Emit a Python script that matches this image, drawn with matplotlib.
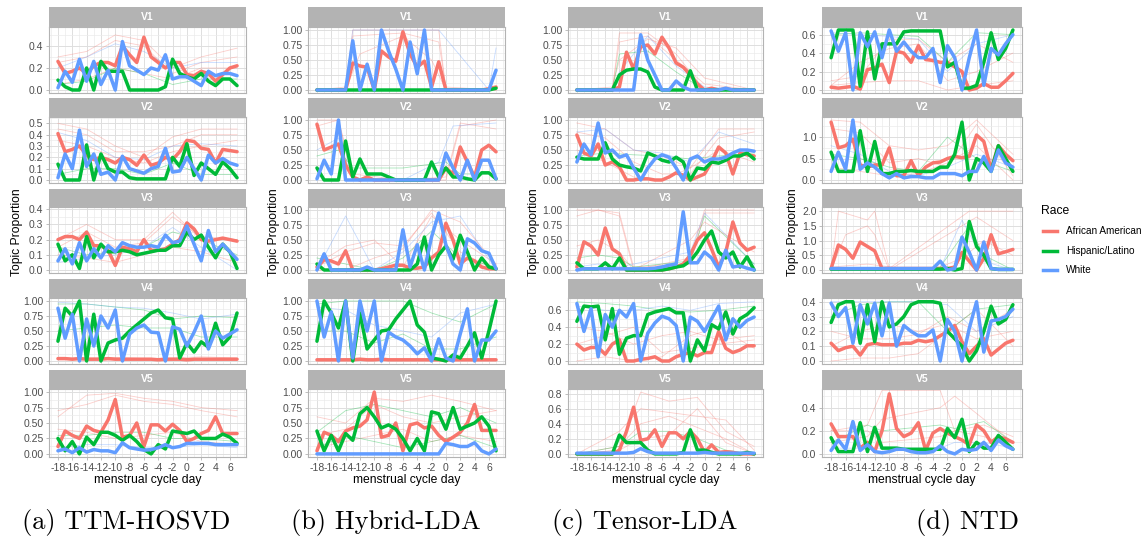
import matplotlib
matplotlib.use('Agg')
import matplotlib.pyplot as plt
from matplotlib.lines import Line2D

plt.rcParams['font.family'] = ['Liberation Sans', 'DejaVu Sans']

# ---------------- data ----------------
DAYS = list(range(-18, 8))
RACES = ['African American', 'Hispanic/Latino', 'White']
COLORS = ['#F8766D', '#00BA38', '#619CFF']
FACETS = ['V1', 'V2', 'V3', 'V4', 'V5']
CAPTIONS = ['(a) TTM-HOSVD', '(b) Hybrid-LDA', '(c) Tensor-LDA', '(d) NTD']
XTICKS = [-18, -16, -14, -12, -10, -8, -6, -4, -2, 0, 2, 4, 6]
THIN_X = [-18, -14, -10, -6, -2, 2, 7]

# (a) TTM-HOSVD : (African American, Hispanic/Latino, White)
TTM_V1 = ([0.26,0.15,0.17,0.2,0.15,0.22,0.25,0.25,0.22,0.4,0.32,0.25,0.48,0.3,0.25,0.2,0.25,0.25,0.14,0.13,0.17,0.15,0.08,0.14,0.2,0.22],
          [0.09,0.03,0.0,0.0,0.2,0.0,0.26,0.17,0.17,0.17,0.0,0.0,0.0,0.0,0.0,0.03,0.28,0.15,0.12,0.1,0.15,0.08,0.04,0.1,0.1,0.04],
          [0.02,0.17,0.07,0.28,0.08,0.26,0.05,0.18,0.0,0.44,0.22,0.18,0.14,0.2,0.18,0.32,0.1,0.12,0.12,0.08,0.04,0.17,0.13,0.15,0.15,0.13])
TTM_V2 = ([0.41,0.25,0.27,0.3,0.22,0.18,0.2,0.18,0.15,0.2,0.18,0.13,0.22,0.13,0.15,0.2,0.18,0.25,0.35,0.34,0.28,0.27,0.15,0.27,0.26,0.25],
          [0.14,0.0,0.0,0.0,0.31,0.0,0.23,0.1,0.07,0.07,0.02,0.01,0.01,0.01,0.01,0.01,0.2,0.12,0.32,0.04,0.15,0.1,0.05,0.16,0.1,0.02],
          [0.02,0.23,0.1,0.44,0.12,0.23,0.05,0.07,0.0,0.21,0.1,0.08,0.06,0.1,0.12,0.28,0.07,0.08,0.2,0.1,0.0,0.22,0.15,0.19,0.15,0.13])
TTM_V3 = ([0.2,0.22,0.22,0.2,0.25,0.16,0.16,0.13,0.03,0.15,0.14,0.12,0.2,0.13,0.13,0.14,0.17,0.2,0.31,0.27,0.2,0.19,0.2,0.21,0.2,0.19],
          [0.17,0.06,0.1,0.01,0.22,0.08,0.17,0.12,0.12,0.13,0.12,0.1,0.11,0.12,0.13,0.13,0.16,0.16,0.25,0.2,0.23,0.15,0.08,0.17,0.12,0.01],
          [0.06,0.14,0.04,0.18,0.06,0.14,0.08,0.16,0.12,0.18,0.16,0.15,0.15,0.16,0.15,0.23,0.18,0.19,0.29,0.17,0.06,0.26,0.12,0.17,0.12,0.07])
TTM_V4 = ([0.04,0.04,0.03,0.04,0.03,0.03,0.03,0.04,0.03,0.03,0.03,0.03,0.03,0.03,0.02,0.03,0.03,0.03,0.02,0.03,0.03,0.03,0.03,0.03,0.03,0.03],
          [0.33,0.88,0.75,1.0,0.0,0.78,0.0,0.3,0.35,0.38,0.5,0.6,0.7,0.8,0.85,0.72,0.7,0.05,0.3,0.15,0.32,0.23,0.63,0.27,0.4,0.8],
          [0.88,0.38,0.78,0.0,0.7,0.25,0.75,0.55,0.85,0.0,0.45,0.55,0.6,0.48,0.47,0.0,0.57,0.53,0.25,0.48,0.75,0.2,0.5,0.38,0.45,0.52])
TTM_V5 = ([0.12,0.37,0.3,0.25,0.45,0.38,0.35,0.55,0.88,0.27,0.3,0.5,0.12,0.47,0.47,0.37,0.48,0.38,0.2,0.25,0.33,0.38,0.6,0.33,0.33,0.33],
          [0.25,0.05,0.2,0.0,0.27,0.15,0.35,0.35,0.3,0.22,0.3,0.2,0.07,0.0,0.15,0.08,0.37,0.35,0.33,0.37,0.25,0.25,0.25,0.32,0.27,0.17],
          [0.05,0.08,0.02,0.1,0.03,0.07,0.05,0.05,0.02,0.18,0.1,0.08,0.06,0.07,0.1,0.15,0.1,0.12,0.17,0.17,0.17,0.17,0.15,0.15,0.15,0.15])

# (b) Hybrid-LDA
HYB_V1 = ([0.0,0.0,0.0,0.0,0.0,0.45,0.4,0.38,0.0,0.65,0.55,0.48,0.97,0.6,0.38,0.48,0.05,0.47,0.0,0.0,0.0,0.0,0.0,0.0,0.02,0.05],
          [0.0,0.0,0.0,0.0,0.0,0.0,0.0,0.0,0.0,0.0,0.0,0.0,0.0,0.0,0.0,0.0,0.0,0.0,0.0,0.0,0.0,0.0,0.0,0.0,0.0,0.03],
          [0.0,0.0,0.0,0.0,0.0,0.82,0.0,0.43,0.0,1.0,0.65,0.35,0.0,0.8,0.27,1.0,0.0,0.0,0.0,0.0,0.0,0.0,0.0,0.0,0.0,0.33])
HYB_V2 = ([0.93,0.5,0.55,0.6,0.25,0.05,0.0,0.05,0.0,0.0,0.0,0.0,0.0,0.0,0.0,0.0,0.0,0.0,0.2,0.1,0.55,0.3,0.05,0.5,0.58,0.47],
          [0.2,0.0,0.0,0.0,0.65,0.05,0.35,0.1,0.1,0.1,0.05,0.0,0.0,0.0,0.0,0.0,0.3,0.05,0.2,0.05,0.05,0.02,0.0,0.12,0.12,0.02],
          [0.02,0.33,0.1,1.0,0.0,0.0,0.0,0.0,0.0,0.0,0.0,0.0,0.0,0.0,0.0,0.0,0.0,0.0,0.45,0.2,0.0,0.33,0.0,0.33,0.33,0.02])
HYB_V3 = ([0.05,0.17,0.15,0.1,0.32,0.0,0.0,0.0,0.0,0.02,0.05,0.08,0.08,0.03,0.03,0.05,0.2,0.3,0.78,0.5,0.1,0.2,0.15,0.05,0.02,0.02],
          [0.1,0.0,0.0,0.0,0.0,0.0,0.0,0.0,0.0,0.0,0.0,0.0,0.0,0.0,0.1,0.55,0.0,0.25,0.4,0.18,0.58,0.3,0.0,0.2,0.05,0.02],
          [0.0,0.27,0.0,0.0,0.0,0.0,0.0,0.05,0.0,0.0,0.0,0.0,0.67,0.05,0.42,0.0,0.55,0.95,0.42,0.1,0.0,0.52,0.45,0.32,0.28,0.02])
HYB_V4 = ([0.02,0.02,0.02,0.02,0.02,0.02,0.03,0.02,0.02,0.03,0.02,0.02,0.02,0.02,0.02,0.02,0.02,0.02,0.02,0.02,0.02,0.02,0.02,0.02,0.02,0.02],
          [0.33,1.0,0.8,0.55,1.0,0.0,0.8,0.2,0.35,0.5,0.52,0.7,0.85,1.0,0.6,0.48,0.05,0.03,0.0,0.1,0.05,0.25,0.47,0.05,0.5,1.0],
          [1.0,0.4,0.82,0.0,1.0,0.05,1.0,0.5,1.0,0.0,0.48,0.4,0.35,0.25,0.12,0.22,0.0,0.37,0.05,0.0,0.45,0.87,0.0,0.35,0.35,0.5])
HYB_V5 = ([0.05,0.35,0.3,0.2,0.37,0.42,0.45,0.55,1.0,0.27,0.3,0.5,0.05,0.47,0.5,0.42,0.45,0.3,0.2,0.27,0.35,0.5,0.8,0.38,0.38,0.38],
          [0.37,0.05,0.3,0.05,0.33,0.22,0.65,0.75,0.6,0.42,0.47,0.4,0.25,0.05,0.25,0.05,0.68,0.65,0.4,0.75,0.4,0.45,0.5,0.6,0.45,0.05],
          [0.0,0.0,0.0,0.0,0.0,0.0,0.0,0.0,0.0,0.0,0.0,0.0,0.0,0.0,0.0,0.0,0.0,0.0,0.17,0.15,0.12,0.12,0.18,0.05,0.0,0.08])

# (c) Tensor-LDA
TEN_V1 = ([0.0,0.0,0.0,0.0,0.0,0.0,0.05,0.63,0.35,0.72,0.75,0.6,0.88,0.7,0.45,0.38,0.25,0.1,0.0,0.03,0.0,0.02,0.0,0.0,0.0,0.0],
          [0.0,0.0,0.0,0.0,0.0,0.0,0.25,0.33,0.35,0.35,0.3,0.05,0.0,0.0,0.0,0.0,0.32,0.0,0.0,0.0,0.0,0.0,0.0,0.0,0.0,0.0],
          [0.0,0.0,0.0,0.0,0.0,0.0,0.0,0.0,0.0,0.92,0.5,0.25,0.0,0.0,0.15,0.05,0.0,0.0,0.0,0.0,0.0,0.03,0.0,0.0,0.0,0.0])
TEN_V2 = ([0.75,0.45,0.4,0.6,0.25,0.3,0.22,0.0,0.0,0.02,0.02,0.0,0.0,0.05,0.12,0.08,0.0,0.05,0.1,0.3,0.55,0.45,0.1,0.45,0.42,0.4],
          [0.38,0.35,0.35,0.35,0.62,0.35,0.25,0.22,0.2,0.15,0.45,0.4,0.33,0.3,0.38,0.3,0.0,0.2,0.18,0.3,0.28,0.33,0.4,0.4,0.45,0.35],
          [0.3,0.6,0.42,0.95,0.45,0.5,0.38,0.42,0.2,0.0,0.2,0.35,0.42,0.38,0.2,0.0,0.35,0.4,0.3,0.35,0.35,0.38,0.45,0.5,0.5,0.48])
TEN_V3 = ([0.05,0.47,0.4,0.25,0.7,0.35,0.27,0.0,0.0,0.0,0.0,0.0,0.0,0.02,0.05,0.1,0.25,0.5,0.62,0.35,0.05,0.3,0.8,0.45,0.33,0.38],
          [0.12,0.02,0.02,0.02,0.12,0.02,0.2,0.0,0.0,0.0,0.0,0.0,0.0,0.02,0.05,0.07,0.15,0.3,0.5,0.65,0.3,0.2,0.3,0.05,0.22,0.0],
          [0.0,0.02,0.02,0.02,0.02,0.02,0.02,0.02,0.02,0.02,0.02,0.03,0.05,0.08,0.1,0.97,0.12,0.12,0.3,0.2,0.0,0.33,0.05,0.07,0.03,0.0])
TEN_V4 = ([0.2,0.13,0.16,0.16,0.08,0.2,0.25,0.0,0.0,0.02,0.03,0.05,0.0,0.0,0.05,0.08,0.1,0.06,0.1,0.1,0.35,0.15,0.1,0.13,0.18,0.18],
          [0.47,0.65,0.64,0.65,0.25,0.62,0.08,0.27,0.3,0.3,0.55,0.58,0.6,0.62,0.57,0.57,0.0,0.25,0.12,0.43,0.38,0.58,0.32,0.5,0.55,0.63],
          [0.68,0.35,0.62,0.05,0.55,0.4,0.6,0.52,0.68,0.0,0.33,0.45,0.53,0.5,0.42,0.0,0.52,0.47,0.35,0.5,0.65,0.25,0.5,0.4,0.48,0.52])
TEN_V5 = ([0.0,0.0,0.0,0.0,0.0,0.0,0.05,0.3,0.62,0.18,0.2,0.32,0.1,0.28,0.28,0.2,0.3,0.2,0.02,0.12,0.02,0.03,0.02,0.0,0.0,0.0],
          [0.0,0.0,0.0,0.0,0.0,0.0,0.25,0.15,0.15,0.15,0.05,0.0,0.0,0.0,0.0,0.02,0.32,0.05,0.05,0.02,0.0,0.0,0.0,0.0,0.02,0.0],
          [0.01,0.01,0.01,0.01,0.01,0.01,0.01,0.01,0.02,0.07,0.03,0.01,0.01,0.01,0.01,0.01,0.01,0.01,0.02,0.01,0.01,0.01,0.01,0.01,0.01,0.01])

# (d) NTD
NTD_V1 = ([0.03,0.02,0.03,0.04,0.01,0.22,0.24,0.28,0.08,0.42,0.4,0.3,0.48,0.33,0.32,0.3,0.3,0.25,0.2,0.0,0.02,0.07,0.03,0.03,0.1,0.18],
          [0.35,0.65,0.65,0.65,0.04,0.63,0.12,0.5,0.5,0.5,0.63,0.64,0.64,0.64,0.64,0.64,0.25,0.3,0.02,0.02,0.05,0.3,0.62,0.33,0.45,0.65],
          [0.64,0.42,0.62,0.0,0.62,0.47,0.63,0.35,0.65,0.42,0.52,0.42,0.35,0.35,0.45,0.08,0.48,0.35,0.0,0.35,0.65,0.05,0.45,0.38,0.5,0.6])
NTD_V2 = ([1.35,0.75,0.8,0.95,0.35,0.3,0.35,0.35,0.75,0.1,0.1,0.45,0.1,0.3,0.4,0.42,0.5,0.55,0.52,0.55,1.05,0.9,0.25,0.8,0.6,0.45],
          [0.65,0.2,0.2,0.2,1.15,0.2,0.9,0.15,0.15,0.2,0.2,0.22,0.2,0.2,0.2,0.3,0.3,0.6,1.35,0.0,0.5,0.4,0.2,0.8,0.5,0.2],
          [0.2,0.65,0.25,1.4,0.25,0.4,0.3,0.15,0.05,0.15,0.05,0.08,0.08,0.05,0.05,0.15,0.15,0.15,0.1,0.2,0.2,0.55,0.2,0.7,0.4,0.3])
NTD_V3 = ([0.05,0.85,0.7,0.4,0.95,0.8,0.65,0.05,0.05,0.05,0.05,0.05,0.05,0.05,0.05,0.05,0.05,0.1,0.6,0.3,0.0,0.4,1.2,0.55,0.62,0.7],
          [0.03,0.03,0.03,0.03,0.03,0.03,0.03,0.03,0.03,0.03,0.03,0.03,0.03,0.03,0.03,0.03,0.05,0.0,0.05,1.65,0.8,0.5,0.05,0.02,0.02,0.02],
          [0.05,0.05,0.05,0.05,0.05,0.05,0.05,0.05,0.05,0.05,0.05,0.05,0.05,0.05,0.05,0.3,0.0,0.05,1.12,0.6,0.0,0.95,0.05,0.02,0.02,0.02])
NTD_V4 = ([0.12,0.07,0.09,0.1,0.04,0.11,0.12,0.11,0.11,0.11,0.12,0.12,0.14,0.13,0.14,0.17,0.2,0.24,0.13,0.05,0.1,0.15,0.04,0.08,0.12,0.14],
          [0.26,0.38,0.4,0.4,0.12,0.38,0.13,0.4,0.23,0.25,0.3,0.38,0.4,0.4,0.4,0.39,0.2,0.15,0.1,0.0,0.07,0.2,0.37,0.25,0.28,0.38],
          [0.39,0.3,0.36,0.12,0.38,0.25,0.39,0.17,0.39,0.1,0.24,0.2,0.17,0.17,0.21,0.0,0.28,0.2,0.0,0.22,0.4,0.06,0.27,0.28,0.3,0.35])
NTD_V5 = ([0.26,0.15,0.15,0.15,0.05,0.1,0.02,0.2,0.52,0.22,0.15,0.18,0.27,0.03,0.18,0.22,0.18,0.15,0.12,0.08,0.25,0.2,0.1,0.15,0.13,0.1],
          [0.14,0.02,0.02,0.02,0.27,0.02,0.23,0.05,0.05,0.05,0.04,0.04,0.04,0.04,0.04,0.04,0.22,0.14,0.3,0.02,0.1,0.05,0.05,0.16,0.1,0.04],
          [0.03,0.12,0.04,0.28,0.03,0.08,0.02,0.01,0.02,0.04,0.04,0.02,0.01,0.01,0.02,0.07,0.02,0.0,0.04,0.03,0.04,0.1,0.03,0.12,0.07,0.04])

# thin background (individual) lines: (race index, days, values)
TTM_THIN = [
    [(0, THIN_X, [0.3,0.35,0.5,0.45,0.2,0.3,0.38]), (0, THIN_X, [0.25,0.3,0.45,0.4,0.15,0.25,0.3]),
     (0, THIN_X, [0.05,0.1,0.2,0.15,0.1,0.2,0.2]), (2, THIN_X, [0.2,0.3,0.42,0.35,0.2,0.25,0.25]),
     (1, THIN_X, [0.05,0.08,0.2,0.15,0.05,0.1,0.1])],
    [(0, THIN_X, [0.5,0.45,0.3,0.2,0.38,0.45,0.45]), (0, THIN_X, [0.45,0.4,0.25,0.25,0.3,0.4,0.4]),
     (0, THIN_X, [0.35,0.3,0.2,0.15,0.25,0.3,0.35]), (2, THIN_X, [0.42,0.35,0.2,0.18,0.3,0.32,0.3]),
     (1, THIN_X, [0.05,0.1,0.1,0.05,0.15,0.05,0.05])],
    [(0, THIN_X, [0.2,0.3,0.2,0.2,0.38,0.2,0.2]), (0, THIN_X, [0.15,0.25,0.15,0.18,0.35,0.22,0.2]),
     (0, THIN_X, [0.1,0.08,0.05,0.1,0.15,0.12,0.05]), (2, THIN_X, [0.05,0.08,0.1,0.15,0.28,0.15,0.0]),
     (1, THIN_X, [0.15,0.1,0.12,0.15,0.25,0.2,0.1])],
    [(1, THIN_X, [0.95,0.95,0.9,0.85,0.7,0.75,0.72]), (2, THIN_X, [0.98,0.95,0.9,0.88,0.8,0.7,0.78]),
     (0, THIN_X, [0.05,0.05,0.06,0.04,0.05,0.07,0.05]), (1, THIN_X, [0.5,0.55,0.6,0.55,0.55,0.4,0.4])],
    [(0, THIN_X, [0.6,0.95,0.98,0.9,0.85,0.75,0.7]), (0, THIN_X, [0.7,0.8,0.95,0.85,0.8,0.7,0.6]),
     (0, THIN_X, [0.4,0.35,0.25,0.3,0.35,0.2,0.15]), (1, THIN_X, [0.3,0.3,0.35,0.35,0.25,0.25,0.2]),
     (2, THIN_X, [0.1,0.15,0.15,0.1,0.1,0.15,0.1])],
]
HYB_THIN = [
    [(0, [-18,-14,-13,-6,-1,0,7], [0,0,1.0,1.0,1.0,0,0]), (0, [-18,-14,-13,-6,-1,0,7], [0,0.05,0.9,0.95,0.8,0.05,0.0]),
     (0, [-18,-14,-12,-6,-2,0,7], [0,0,0.6,0.9,0.5,0.0,0.0]), (2, [-18,-14,-13,-6,-1,6,7], [0,0,1.0,1.0,1.0,0.0,0.7])],
    [(0, [-18,-15,-13,-6,0,2,7], [1.0,1.0,0.0,0.0,0.0,0.9,1.0]), (0, [-18,-15,-13,-6,0,2,7], [0.9,1.0,0.1,0.0,0.05,0.95,0.85]),
     (2, [-18,-15,-13,-6,-1,1,7], [0.5,0.7,0.0,0.0,0.3,0.9,0.95]), (1, [-18,-15,-13,-6,0,2,7], [0.4,0.5,0.2,0.2,0.3,0.1,0.1])],
    [(0, THIN_X, [0.1,0.4,0.5,0.05,0.9,0.5,0.1]), (0, THIN_X, [0.05,0.3,0.45,0.4,0.95,0.3,0.0]),
     (2, THIN_X, [0.0,0.9,0.0,0.3,0.8,0.9,0.0]), (1, THIN_X, [0.2,0.1,0.0,0.2,0.65,0.2,0.05]),
     (0, THIN_X, [0.0,0.0,0.2,0.35,1.0,0.8,0.1])],
    [(1, THIN_X, [0.95,1.0,1.0,1.0,0.8,0.65,0.95]), (2, THIN_X, [0.9,0.85,0.6,0.5,0.4,0.8,0.95]),
     (1, THIN_X, [0.5,0.5,0.3,0.45,0.2,0.2,0.4])],
    [(0, THIN_X, [0.6,0.5,0.9,0.85,0.95,0.85,0.7]), (0, THIN_X, [0.3,0.4,0.8,0.6,0.5,0.6,0.7]),
     (0, THIN_X, [0.1,0.2,0.3,0.4,0.2,0.3,0.2]), (1, THIN_X, [0.35,0.7,0.8,0.7,0.6,0.75,0.5]),
     (1, THIN_X, [0.1,0.3,0.2,0.1,0.2,0.3,0.1])],
]
TEN_THIN = [
    [(0, [-18,-13,-12,-8,-4,0,7], [0,0,0.95,0.95,0.6,0.0,0.0]), (0, [-18,-13,-12,-8,-4,0,7], [0,0,0.8,0.9,0.5,0.1,0]),
     (0, [-18,-13,-12,-8,-4,0,7], [0,0.05,0.5,0.85,0.7,0.2,0]), (2, [-18,-13,-12,-8,-4,0,7], [0,0,0.3,0.9,0.4,0.05,0]),
     (1, [-18,-13,-12,-8,-4,0,7], [0,0,0.6,0.65,0.3,0,0])],
    [(0, THIN_X, [0.95,0.85,0.5,0.4,0.2,0.85,0.85]), (0, THIN_X, [0.8,0.7,0.3,0.1,0.1,0.7,0.8]),
     (2, THIN_X, [0.8,0.85,0.5,0.45,0.3,0.8,0.6]), (1, THIN_X, [0.4,0.45,0.42,0.4,0.35,0.4,0.45]),
     (0, THIN_X, [0.5,0.3,0.05,0.0,0.2,0.5,0.3])],
    [(0, [-18,-15,-12,-10,-2,0,7], [1.0,1.0,0.9,0.0,0.2,1.0,1.0]), (0, [-18,-15,-12,-10,-2,0,7], [0.9,1.0,0.95,0.05,0.1,0.95,0.95]),
     (2, [-18,-15,-12,-10,-2,0,7], [0.05,0.1,0.05,0.1,0.3,0.95,0.1]), (1, [-18,-15,-12,-10,-2,0,7], [0.2,0.25,0.2,0.05,0.15,0.9,0.1]),
     (0, [-18,-15,-12,-10,-2,0,7], [0.4,0.5,0.3,0.0,0.5,0.8,0.3])],
    [(1, THIN_X, [0.7,0.68,0.65,0.6,0.58,0.6,0.65]), (2, THIN_X, [0.65,0.6,0.6,0.65,0.6,0.68,0.7]),
     (0, THIN_X, [0.4,0.35,0.2,0.3,0.35,0.25,0.3]), (0, THIN_X, [0.2,0.3,0.4,0.1,0.15,0.2,0.25]),
     (0, THIN_X, [0.0,0.05,0.0,0.05,0.3,0.4,0.15])],
    [(0, [-18,-12,-9,-5,-1,3,7], [0,0.05,0.82,0.7,0.75,0.3,0.1]), (0, [-18,-12,-9,-5,-1,3,7], [0,0.3,0.6,0.55,0.5,0.45,0.05]),
     (0, [-18,-12,-9,-5,-1,3,7], [0,0.1,0.4,0.5,0.35,0.2,0.0]), (1, [-18,-12,-9,-5,-1,3,7], [0,0.1,0.3,0.3,0.2,0.05,0.0]),
     (0, [-18,-12,-9,-5,-1,3,7], [0,0.05,0.2,0.25,0.6,0.15,0.0])],
]
NTD_THIN = [
    [(0, THIN_X, [0.1,0.15,0.55,0.55,0.3,0.5,0.3]), (0, THIN_X, [0.05,0.3,0.45,0.5,0.1,0.2,0.4]),
     (1, THIN_X, [0.6,0.62,0.6,0.58,0.3,0.62,0.6]), (2, THIN_X, [0.62,0.6,0.58,0.55,0.2,0.5,0.6]),
     (0, THIN_X, [0.05,0.08,0.1,0.1,0.0,0.05,0.1])],
    [(0, THIN_X, [1.4,1.35,0.8,0.7,0.8,1.4,0.6]), (0, THIN_X, [1.2,1.1,0.4,0.5,0.3,1.3,0.1]),
     (1, THIN_X, [0.6,0.5,0.3,0.2,1.0,0.5,0.2]), (2, THIN_X, [0.8,0.6,0.2,0.1,0.3,0.6,0.3]),
     (0, THIN_X, [0.3,0.2,0.1,0.15,0.4,0.8,0.0])],
    [(0, [-18,-17,-13,-12,-10,1,7], [0.0,2.0,1.7,2.0,0.05,2.0,2.0]), (0, [-18,-16,-13,-12,-10,2,7], [0.0,1.2,1.5,1.2,0.0,1.8,1.0]),
     (2, [-18,-13,-8,-3,0,3,7], [0,0,0,0.05,1.7,0.3,0]), (1, [-18,-13,-8,-3,1,3,7], [0,0,0,0.1,1.5,0.5,0]),
     (0, [-18,-13,-8,-3,0,3,7], [0.1,0.2,0.05,0.1,0.4,1.0,0.5])],
    [(0, THIN_X, [0.2,0.15,0.15,0.18,0.3,0.2,0.35]), (0, THIN_X, [0.1,0.2,0.25,0.2,0.25,0.15,0.2]),
     (0, THIN_X, [0.0,0.02,0.02,0.05,0.2,0.35,0.1]), (1, THIN_X, [0.3,0.38,0.4,0.4,0.2,0.35,0.38]),
     (2, THIN_X, [0.4,0.4,0.4,0.4,0.38,0.2,0.3])],
    [(0, [-18,-13,-11,-3,-1,3,7], [0.2,0.25,0.55,0.55,0.2,0.25,0.15]), (0, [-18,-13,-11,-3,-1,3,7], [0.1,0.15,0.3,0.4,0.5,0.3,0.1]),
     (0, [-18,-13,-11,-3,-1,3,7], [0.2,0.2,0.1,0.15,0.2,0.15,0.05]), (1, [-18,-13,-11,-3,-1,3,7], [0.1,0.25,0.2,0.25,0.22,0.28,0.1]),
     (2, [-18,-13,-11,-3,-1,3,7], [0.05,0.05,0.05,0.05,0.1,0.1,0.05])],
]

# y-axis tick labels per facet and data maximum of each facet
TTM_YTICKS = [['0.0','0.2','0.4'], ['0.0','0.1','0.2','0.3','0.4','0.5'], ['0.0','0.1','0.2','0.3','0.4'],
              ['0.00','0.25','0.50','0.75','1.00'], ['0.00','0.25','0.50','0.75','1.00']]
HYB_YTICKS = [['0.00','0.25','0.50','0.75','1.00']] * 5
TEN_YTICKS = [['0.00','0.25','0.50','0.75','1.00'], ['0.00','0.25','0.50','0.75','1.00'], ['0.00','0.25','0.50','0.75','1.00'],
              ['0.0','0.2','0.4','0.6'], ['0.0','0.2','0.4','0.6','0.8']]
NTD_YTICKS = [['0.0','0.2','0.4','0.6'], ['0.0','0.5','1.0'], ['0.0','0.5','1.0','1.5','2.0'],
              ['0.0','0.1','0.2','0.3','0.4'], ['0.0','0.2','0.4']]
TTM_YMAX = [0.545, 0.53, 0.395, 1.0, 1.0]
HYB_YMAX = [1.0, 1.0, 1.0, 1.0, 1.0]
TEN_YMAX = [1.0, 1.0, 1.0, 0.71, 0.82]
NTD_YMAX = [0.65, 1.4, 2.04, 0.405, 0.535]

PANELS = [
    ([TTM_V1, TTM_V2, TTM_V3, TTM_V4, TTM_V5], TTM_THIN, TTM_YTICKS, TTM_YMAX),
    ([HYB_V1, HYB_V2, HYB_V3, HYB_V4, HYB_V5], HYB_THIN, HYB_YTICKS, HYB_YMAX),
    ([TEN_V1, TEN_V2, TEN_V3, TEN_V4, TEN_V5], TEN_THIN, TEN_YTICKS, TEN_YMAX),
    ([NTD_V1, NTD_V2, NTD_V3, NTD_V4, NTD_V5], NTD_THIN, NTD_YTICKS, NTD_YMAX),
]

# ---------------- layout ----------------
W, H = 1145, 540
fig = plt.figure(figsize=(W / 100, H / 100), dpi=100)
fig.patch.set_facecolor('white')

def ax_px(l, t, r, b):
    return fig.add_axes([l / W, 1 - b / H, (r - l) / W, (b - t) / H])

ROWS = [(7, 27, 93), (98, 117, 183), (189, 207, 273), (279, 298, 364), (370, 389, 457)]
COLS = [(49, 246), (308, 505), (568, 763), (822, 1022)]
YLAB_X = [17, 274, 534, 793]
CAP_X = [126, 386, 645, 967]

GREY70 = '#B3B3B3'
TICKC = '#4D4D4D'

def minor_between(major, lo, hi):
    step = major[1] - major[0]
    pts = [major[0] - step] + list(major) + [major[-1] + step]
    out = []
    for a, b in zip(pts[:-1], pts[1:]):
        for v in (a, (a + b) / 2, b):
            if lo <= v <= hi and v not in major and v not in out:
                out.append(v)
    return out

for p, (series, thin, yticks, ymax) in enumerate(PANELS):
    l, r = COLS[p]
    for f in range(5):
        st, pt, pb = ROWS[f]
        # strip
        sax = ax_px(l, st, r, pt)
        sax.set_facecolor(GREY70)
        for s in sax.spines.values():
            s.set_visible(False)
        sax.set_xticks([]); sax.set_yticks([])
        sax.text(0.5, 0.5, FACETS[f], color='white', fontweight='bold', fontsize=7.5,
                 ha='center', va='center', transform=sax.transAxes)
        # panel
        ax = ax_px(l, pt, r, pb)
        ax.set_facecolor('white')
        ylo, yhi = -0.05 * ymax[f], 1.05 * ymax[f]
        ax.set_xlim(-19.25, 8.25)
        ax.set_ylim(ylo, yhi)
        yt = [float(s) for s in yticks[f]]
        ax.set_yticks(yt)
        ax.set_yticklabels(yticks[f])
        ax.set_yticks(minor_between(yt, ylo, yhi), minor=True)
        ax.set_xticks(XTICKS)
        ax.set_xticks(minor_between(XTICKS, -19.25, 8.25), minor=True)
        ax.grid(which='major', color='#DEDEDE', lw=0.7)
        ax.grid(which='minor', color='#EBEBEB', lw=0.5)
        ax.set_axisbelow(True)
        for s in ax.spines.values():
            s.set_color(GREY70); s.set_linewidth(0.8)
        ax.tick_params(axis='y', which='major', labelsize=7.5, labelcolor=TICKC, color=GREY70,
                       length=2.5, width=0.6, pad=1.5)
        ax.tick_params(which='minor', length=0)
        if f == 4:
            ax.set_xticklabels([str(v) for v in XTICKS])
            ax.tick_params(axis='x', which='major', labelsize=7.5, labelcolor=TICKC, color=GREY70,
                           length=2.5, width=0.6, pad=1.5)
        else:
            ax.tick_params(axis='x', which='major', length=0, labelbottom=False)
        # thin individual lines
        for race, xs, ys in thin[f]:
            ax.plot(xs, ys, color=COLORS[race], lw=0.6, alpha=0.35, zorder=2)
        # race mean lines
        for k in range(3):
            ax.plot(DAYS, series[f][k], color=COLORS[k], lw=2.5, zorder=3 + k,
                    solid_joinstyle='round', solid_capstyle='round')
    # axis titles & caption
    fig.text(YLAB_X[p] / W, 1 - 232 / H, 'Topic Proportion', rotation=90, fontsize=8.7,
             ha='center', va='center')
    fig.text((l + r) / 2 / W, 1 - 480 / H, 'menstrual cycle day', fontsize=8.7,
             ha='center', va='center')
    fig.text(CAP_X[p] / W, 1 - 522 / H, CAPTIONS[p], fontsize=19, ha='center', va='center',
             family=['cmr10', 'DejaVu Serif'])

# legend
fig.text(1041 / W, 1 - 211 / H, 'Race', fontsize=8.7, ha='left', va='center')
for k, yy in enumerate([231, 251, 270]):
    fig.add_artist(Line2D([1043 / W, 1057 / W], [1 - yy / H, 1 - yy / H], color=COLORS[k], lw=2.5))
    fig.text(1066 / W, 1 - yy / H, RACES[k], fontsize=7.2, ha='left', va='center')

fig.savefig('out.png', dpi=100, facecolor='white')
